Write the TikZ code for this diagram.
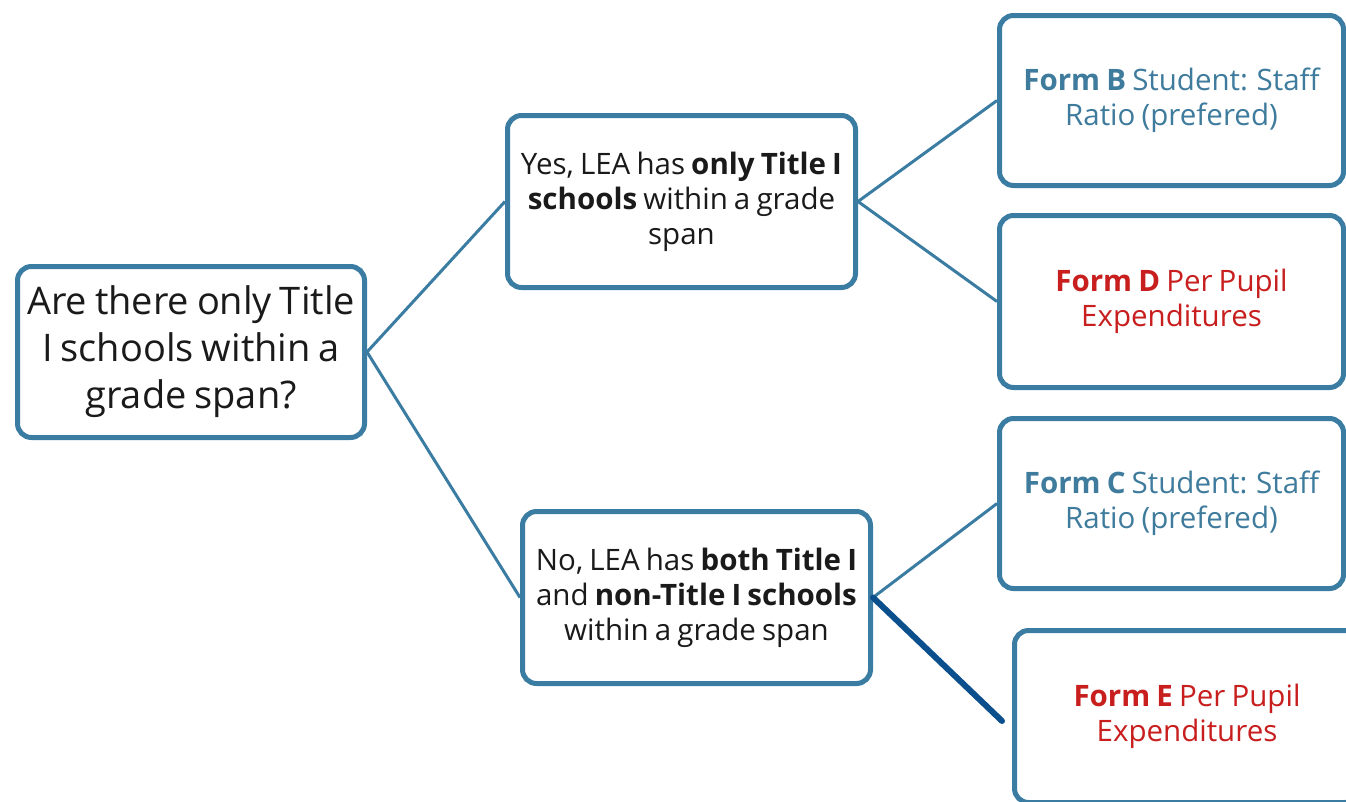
\documentclass[tikz,border=0pt]{standalone}
\usepackage{fontspec}
\setmainfont[WordSpace=0.8]{Open Sans}
\definecolor{bord}{HTML}{3B7CA2}
\definecolor{darkline}{HTML}{0B4F8C}
\definecolor{bluetxt}{HTML}{3E7B9C}
\definecolor{redtxt}{HTML}{C81E1E}
\definecolor{blacktxt}{HTML}{1A1A1A}
\tikzset{
  box/.style={draw=bord, line width=5pt, rounded corners=14pt, fill=white,
    align=center, inner sep=0pt, text=blacktxt},
  bigtext/.style={font=\fontsize{38}{47}\selectfont},
  midtext/.style={font=\fontsize{29.5}{35}\selectfont},
  conn/.style={draw=bord, line width=3pt},
  darkconn/.style={draw=darkline, line width=6pt, line cap=round}
}
\begin{document}
\begin{tikzpicture}[x=1pt,y=-1pt]
\useasboundingbox (0,0) rectangle (1346,801);
\clip (0,0) rectangle (1346,801);
\node[box,bigtext,minimum width=347pt,minimum height=171pt] (root) at (191,352)
  {Are there only Title\\ I schools within a\\ grade span?};
\node[box,midtext,minimum width=348pt,minimum height=172pt] (yes) at (681.5,201.5)
  {Yes, LEA has \textbf{only Title I}\\ \textbf{schools} within a grade\\ span};
\node[box,midtext,minimum width=348pt,minimum height=172pt] (no) at (696.5,597.5)
  {No, LEA has \textbf{both Title I}\\ and \textbf{non-Title I schools}\\ within a grade span};
\node[box,midtext,text=bluetxt,minimum width=344pt,minimum height=170pt] (fb) at (1171.5,100.5)
  {\textbf{Form B} Student: Staff\\ Ratio (prefered)};
\node[box,midtext,text=redtxt,minimum width=344pt,minimum height=172pt] (fd) at (1171.5,301.5)
  {\textbf{Form D} Per Pupil\\ Expenditures};
\node[box,midtext,text=bluetxt,minimum width=344pt,minimum height=170pt] (fc) at (1171.5,503.5)
  {\textbf{Form C} Student: Staff\\ Ratio (prefered)};
\node[box,midtext,text=redtxt,minimum width=345pt,minimum height=172pt] (fe) at (1187,716.5)
  {\textbf{Form E} Per Pupil\\ Expenditures};
\coordinate (eend) at (1002,721);
\draw[conn] (root.east) -- (yes.west);
\draw[conn] (root.east) -- (no.west);
\draw[conn] (yes.east) -- (fb.west);
\draw[conn] (yes.east) -- (fd.west);
\draw[conn] (no.east) -- (fc.west);
\draw[darkconn] (no.east) -- (eend);
\end{tikzpicture}
\end{document}
